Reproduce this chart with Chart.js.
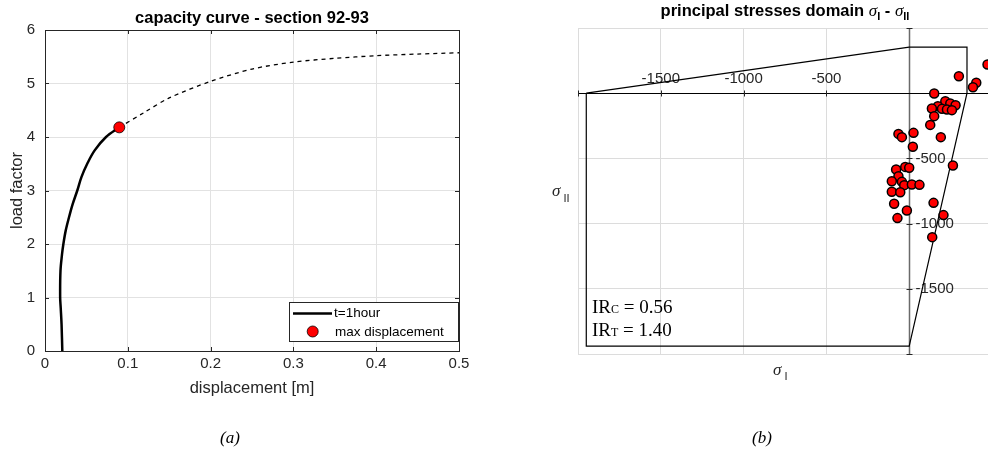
<!DOCTYPE html>
<html><head><meta charset="utf-8">
<script src="https://cdn.jsdelivr.net/npm/chart.js@4"></script>
<style>
html,body{margin:0;padding:0;background:#fff;width:988px;height:455px;overflow:hidden;position:relative}
#c1{position:absolute;left:0;top:0}
#c2{position:absolute;left:500px;top:0}
.cap{position:absolute;font-family:"Liberation Serif",serif;font-style:italic;font-size:17px;top:428px;color:#000}
</style></head><body>
<canvas id="c1" width="480" height="455"></canvas>
<canvas id="c2" width="498" height="455"></canvas>
<div class="cap" style="left:220px">(a)</div>
<div class="cap" style="left:752px">(b)</div>
<script>
// ---------- data: chart (a) capacity curve ----------
const curveX = [0.0209,0.0200,0.0190,0.0183,0.0187,0.0205,0.0222,0.0250,0.0290,0.0335,0.0390,0.0440,0.0510,0.0600,0.0737,0.0897];
const curveY = [0.00,0.50,0.80,1.00,1.50,1.80,2.00,2.25,2.50,2.75,3.00,3.25,3.50,3.75,4.00,4.18];
const dashX = [0.0897,0.12,0.15,0.20,0.25,0.30,0.35,0.40,0.45,0.50];
const dashY = [4.18,4.46,4.73,5.04,5.27,5.40,5.47,5.52,5.55,5.575];
const maxDispX = [0.0897];
const maxDispY = [4.18];
const xTicks1 = [0,0.1,0.2,0.3,0.4,0.5];
const yTicks1 = [0,1,2,3,4,5,6];
const seriesLabels1 = ['t=1hour','max displacement'];

// ---------- data: chart (b) principal stresses domain ----------
const sigmaI  = [473,300,405,385,151,218,248,280,173,137,198,228,258,151,127,191,-65,-44,26,22,264,-24,0,-79,-65,-105,-44,-30,16,62,-105,-54,-91,-14,-71,147,207,139];
const sigmaII = [220,130,80,46,-2,-61,-79,-92,-100,-117,-120,-125,-130,-176,-243,-337,-312,-337,-304,-411,-554,-565,-572,-585,-636,-675,-680,-705,-700,-703,-756,-759,-848,-900,-958,-841,-935,-1104];
const domainI  = [-1950,0,349,349,0,-1950,-1950];
const domainII = [0,353,353,0,-1940,-1940,0];
const xTicks2 = [-1500,-1000,-500];
const yTicks2 = [-500,-1000,-1500];
const gridStep2 = 500;
const irNames = ['C','T'];
const irValues = ['0.56','1.40'];

const SANS = '"Liberation Sans", Arial, sans-serif';
const SERIF = '"Liberation Serif", "Times New Roman", serif';
Chart.defaults.font.family = SANS;
Chart.defaults.color = '#262626';
const AX = '#262626';
const GRID = '#e2e2e2';

function pts(xs, ys){ return xs.map((x,i)=>({x:x, y:ys[i]})); }

function measurePieces(ctx, pieces){
  let w=0; pieces.forEach(p=>{ctx.font=p[1]; w+=ctx.measureText(p[0]).width;}); return w;
}
function drawPieces(ctx, pieces, x, y, align){
  let w = measurePieces(ctx, pieces);
  let cx = align==='center' ? x - w/2 : x;
  ctx.textAlign='left'; ctx.textBaseline='alphabetic';
  pieces.forEach(p=>{ctx.font=p[1]; ctx.fillText(p[0], cx, y+(p[2]||0)); cx += ctx.measureText(p[0]).width;});
}

// ---------- chart (a) ----------
const frame1 = {
  id:'frame1',
  afterDraw(chart){
    const ctx = chart.ctx, a = chart.chartArea;
    const sx = chart.scales.x, sy = chart.scales.y;
    ctx.save();
    ctx.strokeStyle = AX; ctx.lineWidth = 1;
    ctx.strokeRect(Math.round(a.left)+0.5, Math.round(a.top)+0.5, Math.round(a.right-a.left), Math.round(a.bottom-a.top));
    ctx.beginPath();
    xTicks1.forEach(v=>{const px=Math.round(sx.getPixelForValue(v))+0.5; ctx.moveTo(px,a.bottom); ctx.lineTo(px,a.bottom-4); ctx.moveTo(px,a.top); ctx.lineTo(px,a.top+4);});
    yTicks1.forEach(v=>{const py=Math.round(sy.getPixelForValue(v))+0.5; ctx.moveTo(a.left,py); ctx.lineTo(a.left+4,py); ctx.moveTo(a.right,py); ctx.lineTo(a.right-4,py);});
    ctx.stroke();
    ctx.fillStyle = '#000';
    ctx.font = 'bold 16.5px '+SANS; ctx.textAlign='center'; ctx.textBaseline='alphabetic';
    ctx.fillText('capacity curve - section 92-93', (a.left+a.right)/2, 22.5);
    ctx.fillStyle = AX;
    ctx.font = '16.5px '+SANS;
    ctx.textBaseline='middle';
    ctx.fillText('displacement [m]', (a.left+a.right)/2, 388);
    ctx.save(); ctx.translate(17, (a.top+a.bottom)/2); ctx.rotate(-Math.PI/2);
    ctx.fillText('load factor', 0, 0); ctx.restore();
    // legend
    const lx=289.5, ly=302.5, lw=169, lh=39;
    ctx.fillStyle='#fff'; ctx.fillRect(lx,ly,lw,lh);
    ctx.strokeStyle=AX; ctx.lineWidth=1; ctx.strokeRect(lx,ly,lw,lh);
    ctx.strokeStyle='#000'; ctx.lineWidth=2.5; ctx.beginPath(); ctx.moveTo(293,313.5); ctx.lineTo(332,313.5); ctx.stroke();
    ctx.fillStyle='#ff0000'; ctx.strokeStyle='#000'; ctx.lineWidth=0.8; ctx.beginPath(); ctx.arc(312.7,331.5,5.5,0,Math.PI*2); ctx.fill(); ctx.stroke();
    ctx.fillStyle='#000'; ctx.font='13.5px '+SANS; ctx.textAlign='left'; ctx.textBaseline='middle';
    ctx.fillText(chart.data.datasets[1].label, 334, 313.5);
    ctx.fillText(chart.data.datasets[0].label, 335, 332);
    ctx.restore();
  }
};

new Chart(document.getElementById('c1'), {
  type:'scatter',
  data:{datasets:[
    {label:seriesLabels1[1], data:pts(maxDispX,maxDispY), order:0, pointRadius:5.5, pointBackgroundColor:'#ff0000', pointBorderColor:'#000', pointBorderWidth:0.8, showLine:false},
    {label:seriesLabels1[0], data:pts(curveX,curveY), order:1, showLine:true, borderColor:'#000', borderWidth:2.5, pointRadius:0, tension:0.35, fill:false},
    {label:'', data:pts(dashX,dashY), order:2, showLine:true, borderColor:'#000', borderWidth:1.3, borderDash:[4,4], pointRadius:0, tension:0.3, fill:false}
  ]},
  options:{
    responsive:false, animation:false, events:[],
    layout:{padding:{top:30,right:21,left:0,bottom:0}},
    plugins:{legend:{display:false}, tooltip:{enabled:false}, title:{display:false}},
    scales:{
      x:{type:'linear', min:0, max:0.5,
         afterBuildTicks:s=>{s.ticks = xTicks1.map(v=>({value:v}));},
         ticks:{font:{size:15}, padding:4, color:AX, maxRotation:0, callback:v=>String(v)},
         grid:{color:GRID, drawTicks:false}, border:{display:false},
         afterFit:s=>{s.height=104;}},
      y:{type:'linear', min:0, max:6,
         afterBuildTicks:s=>{s.ticks = yTicks1.map(v=>({value:v}));},
         ticks:{font:{size:15}, padding:10, color:AX, callback:v=>String(v)},
         grid:{color:GRID, drawTicks:false}, border:{display:false},
         afterFit:s=>{s.width=45;}}
    }
  },
  plugins:[frame1]
});

// ---------- chart (b) ----------
const axes2 = {
  id:'axes2',
  beforeDatasetsDraw(chart){
    const ctx = chart.ctx, a = chart.chartArea;
    const sx = chart.scales.x, sy = chart.scales.y;
    const x0 = Math.round(sx.getPixelForValue(0))+0.5, y0 = Math.round(sy.getPixelForValue(0))+0.5;
    ctx.save();
    ctx.strokeStyle='#6a6a6a'; ctx.lineWidth=1.5;
    ctx.beginPath(); ctx.moveTo(x0,a.top); ctx.lineTo(x0,a.bottom); ctx.stroke();
    ctx.strokeStyle='#000'; ctx.lineWidth=1;
    ctx.beginPath(); ctx.moveTo(a.left,y0); ctx.lineTo(a.right,y0); ctx.stroke();
    ctx.strokeStyle=AX; ctx.lineWidth=1; ctx.beginPath();
    for(let v=sx.min; v<=sx.max; v+=gridStep2){ if(v===0) continue; const px=Math.round(sx.getPixelForValue(v))+0.5; ctx.moveTo(px,y0-3); ctx.lineTo(px,y0+3); }
    for(let v=sy.min; v<=sy.max; v+=gridStep2){ if(v===0) continue; const py=Math.round(sy.getPixelForValue(v))+0.5; ctx.moveTo(x0-3,py); ctx.lineTo(x0+3,py); }
    ctx.stroke();
    ctx.fillStyle=AX; ctx.font='15px '+SANS;
    ctx.textAlign='center'; ctx.textBaseline='middle';
    xTicks2.forEach(v=>ctx.fillText(String(v), sx.getPixelForValue(v), y0-15));
    ctx.textAlign='left';
    yTicks2.forEach(v=>ctx.fillText(String(v), x0+6, sy.getPixelForValue(v)));
    ctx.restore();
  },
  afterDraw(chart){
    const ctx = chart.ctx, a = chart.chartArea;
    ctx.save();
    ctx.fillStyle='#000';
    const B='bold 16.5px '+SANS, S='italic 17px '+SERIF, SB='bold 11px '+SANS;
    drawPieces(ctx, [['principal stresses domain ',B,0],['σ',S,0],['I',SB,4],[' - ',B,0],['σ',S,0],['II',SB,4]], 285, 16, 'center');
    ctx.fillStyle=AX;
    drawPieces(ctx, [['σ','italic 17px '+SERIF,0],[' ','11px '+SANS,0],['I','11px '+SANS,5]], 273, 375, 'left');
    drawPieces(ctx, [['σ','italic 17px '+SERIF,0],[' ','11px '+SANS,0],['II','11px '+SANS,6]], 52, 196, 'left');
    ctx.fillStyle='#000';
    const R='19px '+SERIF, RS='12px '+SERIF;
    irNames.forEach((n,i)=>{
      drawPieces(ctx, [['IR',R,0],[n,RS,0],[' = '+irValues[i],R,0]], a.left+14, 313+i*23, 'left');
    });
    ctx.restore();
  }
};

new Chart(document.getElementById('c2'), {
  type:'scatter',
  data:{datasets:[
    {label:'stresses', data:pts(sigmaI,sigmaII), order:0, pointRadius:4.5, pointBackgroundColor:'#ff0000', pointBorderColor:'#000', pointBorderWidth:1.5, showLine:false},
    {label:'domain', data:pts(domainI,domainII), order:1, showLine:true, borderColor:'#000', borderWidth:1.2, pointRadius:0, tension:0, fill:false}
  ]},
  options:{
    responsive:false, animation:false, events:[],
    layout:{padding:{top:28,right:0,left:78,bottom:101}},
    plugins:{legend:{display:false}, tooltip:{enabled:false}, title:{display:false}},
    scales:{
      x:{type:'linear', min:-2000, max:500, ticks:{display:false, stepSize:gridStep2},
         grid:{color:'#dcdcdc', drawTicks:false}, border:{display:false},
         afterFit:s=>{s.height=0;}},
      y:{type:'linear', min:-2000, max:500, ticks:{display:false, stepSize:gridStep2},
         grid:{color:'#dcdcdc', drawTicks:false}, border:{display:false},
         afterFit:s=>{s.width=0;}}
    }
  },
  plugins:[axes2]
});
</script>
</body></html>
